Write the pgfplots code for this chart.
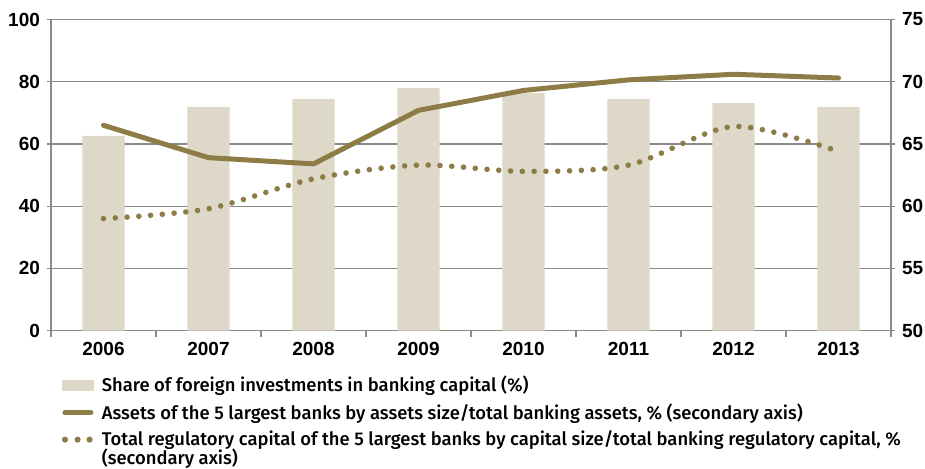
\documentclass[border=0pt]{standalone}
\usepackage{fontspec}
\setmainfont{Liberation Sans}
\newfontfamily\legfont{Fira Sans}[UprightFont=* Medium]
\usepackage{pgfplots}
\usepackage{pgfplotstable}
\pgfplotsset{compat=1.18}
\definecolor{barcol}{HTML}{DDD8C8}
\definecolor{linecol}{HTML}{8E7C47}
\definecolor{gridcol}{HTML}{8A8A8A}

\pgfplotstableread{
x bar assets cap
0 62.6 66.5 59.0
1 71.9 63.9 59.8
2 74.5 63.4 62.2
3 78.0 67.7 63.3
4 76.3 69.3 62.8
5 74.5 70.15 63.3
6 73.1 70.6 66.4
7 71.9 70.3 64.4
}\data

\begin{document}
\begin{tikzpicture}
\useasboundingbox (-25.5pt,-69.15pt) rectangle (437pt,165.35pt);
\begin{axis}[
  scale only axis, width=420pt, height=155.6pt,
  xmin=-0.5, xmax=7.5, ymin=0, ymax=100,
  axis x line*=bottom, axis y line*=left,
  ytick={0,20,...,100},
  xtick={0,...,7}, xticklabels={2006,2007,2008,2009,2010,2011,2012,2013},
  minor xtick={-0.5,0.5,...,7.5},
  major x tick style={draw=none},
  minor tick length=3pt, major tick length=2pt,
  tick align=outside,
  tick style={gridcol, line width=0.6pt},
  ymajorgrids, grid style={gridcol, line width=0.6pt},
  axis line style={gridcol, line width=0.6pt},
  ticklabel style={font=\bfseries\fontsize{9.5}{11}\selectfont, text=black},
  /pgf/number format/assume math mode=true,
]
\addplot[ybar, bar width=21.2pt, fill=barcol, draw=none] table[x=x,y=bar]{\data};
\end{axis}
\begin{axis}[
  scale only axis, width=420pt, height=155.6pt,
  xmin=-0.5, xmax=7.5, ymin=50, ymax=75,
  axis y line*=right, axis x line=none,
  ytick={50,55,...,75},
  major tick length=2pt, tick align=outside,
  tick style={gridcol, line width=0.6pt},
  axis line style={gridcol, line width=0.6pt},
  ticklabel style={font=\bfseries\fontsize{9.5}{11}\selectfont, text=black},
  /pgf/number format/assume math mode=true,
  legend style={at={(0,0)}, anchor=north west, xshift=5.5pt, yshift=-20.7pt,
    draw=none, fill=none, inner sep=0pt, outer sep=0pt,
    font=\legfont\fontsize{9.2}{11}\selectfont,
    cells={anchor=west}, row sep=0.3pt},
]
\addlegendimage{legend image code/.code={\fill[barcol] (0pt,-2.5pt) rectangle (15.5pt,2.5pt); \path (17.5pt,0);}}
\addlegendentry{Share of foreign investments in banking capital (\%)}
\addlegendimage{legend image code/.code={\draw[linecol, line width=2.5pt, line cap=round] (1.25pt,0) -- (14.25pt,0); \path (17.5pt,0);}}
\addlegendentry{Assets of the 5 largest banks by assets size/total banking assets, \% (secondary axis)}
\addlegendimage{legend image code/.code={\fill[linecol] (1.3pt,0) circle (1.3pt) (7.6pt,0) circle (1.3pt) (13.6pt,0) circle (1.3pt); \path (17.5pt,0);}}
\addlegendentry{\rlap{\raisebox{-9.6pt}[0pt][0pt]{(secondary axis)}}Total regulatory capital of the 5 largest banks by capital size/total banking regulatory capital, \%}
\addplot[linecol, line width=2.5pt, line join=round, line cap=round, forget plot] table[x=x,y=assets]{\data};
\addplot[linecol, line width=2.8pt, dash pattern=on 0pt off 5.9pt, line cap=round, smooth, forget plot] table[x=x,y=cap]{\data};
\end{axis}
\end{tikzpicture}
\end{document}
